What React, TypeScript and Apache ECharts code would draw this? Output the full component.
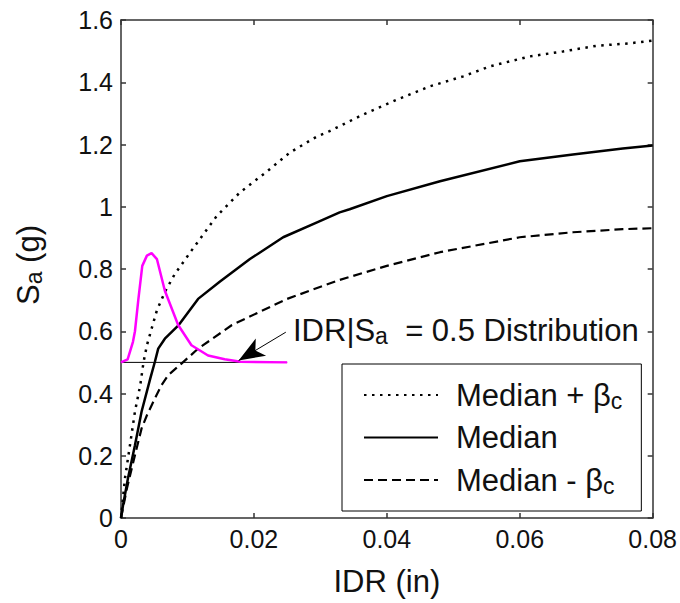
import React, { useEffect, useRef } from 'react';
import * as echarts from 'echarts';

const FONT = "'Liberation Sans', Arial, Helvetica, sans-serif";

// Axis ranges
const X_MIN = 0;
const X_MAX = 0.08;
const X_STEP = 0.02;
const Y_MIN = 0;
const Y_MAX = 1.6;
const Y_STEP = 0.2;

// Median + beta_c (dotted)
const plusX = [0, 0.0001, 0.0006, 0.00135, 0.0021, 0.0029, 0.0034, 0.0039, 0.0046, 0.0054, 0.0066, 0.0081, 0.0106, 0.0144, 0.0179, 0.022, 0.0254, 0.0295, 0.0314, 0.0364, 0.0415, 0.0465, 0.0515, 0.0555, 0.0615, 0.0665, 0.0715, 0.0765, 0.08];
const plusY = [0, 0.022, 0.128, 0.234, 0.342, 0.427, 0.502, 0.555, 0.608, 0.667, 0.726, 0.784, 0.859, 0.97, 1.046, 1.114, 1.174, 1.226, 1.243, 1.296, 1.344, 1.387, 1.419, 1.451, 1.483, 1.499, 1.517, 1.525, 1.534];

// Median (solid)
const medX = [0, 0.0003, 0.00105, 0.0021, 0.0031, 0.0044, 0.0051, 0.0056, 0.0066, 0.0086, 0.0116, 0.0149, 0.0167, 0.0194, 0.0244, 0.0295, 0.0329, 0.0344, 0.04, 0.048, 0.06, 0.068, 0.0755, 0.08];
const medY = [0, 0.04, 0.128, 0.234, 0.342, 0.448, 0.502, 0.544, 0.576, 0.618, 0.704, 0.76, 0.789, 0.832, 0.902, 0.95, 0.982, 0.992, 1.034, 1.082, 1.146, 1.168, 1.187, 1.197];

// Median - beta_c (dashed)
const minusX = [0, 0.0009, 0.0021, 0.0031, 0.0039, 0.0051, 0.0061, 0.0071, 0.0091, 0.0116, 0.0167, 0.025, 0.0329, 0.04, 0.048, 0.06, 0.068, 0.0755, 0.08];
const minusY = [0, 0.096, 0.202, 0.288, 0.33, 0.384, 0.427, 0.459, 0.496, 0.544, 0.62, 0.704, 0.765, 0.81, 0.854, 0.902, 0.918, 0.928, 0.931];

// IDR | Sa = 0.5 distribution (magenta), drawn on the Sa = 0.5 baseline
const distX = [0, 0.001, 0.0018, 0.0021, 0.0026, 0.0032, 0.0039, 0.0046, 0.0054, 0.0066, 0.0086, 0.0106, 0.0131, 0.0156, 0.018, 0.025];
const distY = [0.5, 0.51, 0.566, 0.6, 0.7, 0.81, 0.843, 0.851, 0.832, 0.73, 0.62, 0.555, 0.522, 0.51, 0.502, 0.5];

// Sa = 0.5 reference line
const baseX = [0, 0.025];
const baseY = [0.5, 0.5];

// Annotation arrow (data coords): start, tip
const arrowFrom = [0.0248, 0.597];
const arrowTo = [0.0177, 0.506];

const NAMES = ['Median + β', 'Median', 'Median - β'];

const zip = (xs: number[], ys: number[]) => xs.map((x, i) => [x, ys[i]]);

export default function App() {
  const ref = useRef<HTMLDivElement>(null);

  useEffect(() => {
    const chart = echarts.init(ref.current!, undefined, { renderer: 'svg' });
    const axisColor = '#333';
    const textColor = '#111';
    const subStyle = { fontSize: 23, lineHeight: 18, verticalAlign: 'bottom', fontFamily: FONT, color: textColor };
    const fmt = (v: number) => String(+v.toFixed(3));

    const common = (min: number, max: number, step: number) => ({
      type: 'value',
      min,
      max,
      interval: step,
      axisLine: { show: true, onZero: false, lineStyle: { color: axisColor, width: 1.5 } },
      axisTick: { show: true, inside: true, length: 5, lineStyle: { color: axisColor, width: 1.5 } },
      splitLine: { show: false },
    });

    const line = (name: string, xs: number[], ys: number[], lineStyle: any, z: number, extra: any = {}) => ({
      type: 'line',
      name,
      data: zip(xs, ys),
      symbol: 'none',
      showSymbol: false,
      smooth: false,
      lineStyle,
      itemStyle: { color: lineStyle.color },
      z,
      silent: true,
      emphasis: { disabled: true },
      ...extra,
    });

    chart.setOption({
      animation: false,
      backgroundColor: '#fff',
      grid: { left: 121, right: 27, top: 20, bottom: 83, containLabel: false },
      xAxis: [
        {
          ...common(X_MIN, X_MAX, X_STEP),
          position: 'bottom',
          axisLabel: { show: true, margin: 8, fontSize: 25, lineHeight: 25, color: textColor, fontFamily: FONT, formatter: fmt },
          name: 'IDR (in)',
          nameLocation: 'middle',
          nameGap: 46,
          nameTextStyle: { fontSize: 31, lineHeight: 34, color: textColor, fontFamily: FONT },
        },
        {
          ...common(X_MIN, X_MAX, X_STEP),
          position: 'top',
          axisLabel: { show: false },
        },
      ],
      yAxis: [
        {
          ...common(Y_MIN, Y_MAX, Y_STEP),
          position: 'left',
          axisLabel: { show: true, margin: 8, fontSize: 25, color: textColor, fontFamily: FONT, formatter: fmt },
          name: 'S{sub|a} (g)',
          nameLocation: 'middle',
          nameRotate: 90,
          nameGap: 76,
          nameTextStyle: { fontSize: 31, lineHeight: 34, color: textColor, fontFamily: FONT, padding: [0, 0, 0, 8], rich: { sub: subStyle } },
        },
        {
          ...common(Y_MIN, Y_MAX, Y_STEP),
          position: 'right',
          axisLabel: { show: false },
        },
      ],
      legend: {
        data: NAMES,
        orient: 'vertical',
        left: 342,
        top: 364,
        padding: [14, 19, 14, 21],
        itemWidth: 74,
        itemHeight: 14,
        itemGap: 8.5,
        backgroundColor: '#fff',
        borderColor: '#000',
        borderWidth: 1,
        borderRadius: 0,
        selectedMode: false,
        itemStyle: { opacity: 0, color: 'rgba(0,0,0,0)', borderColor: 'rgba(0,0,0,0)', borderWidth: 0 },
        formatter: (n: string) => (n.indexOf('β') >= 0 ? n + '{sub|c}' : n),
        textStyle: {
          fontSize: 31,
          lineHeight: 34,
          color: textColor,
          fontFamily: FONT,
          padding: [0, 0, 0, 13],
          rich: { sub: subStyle },
        },
      },
      graphic: [
        {
          type: 'text',
          x: 293,
          y: 330,
          z: 100,
          silent: true,
          style: {
            text: 'IDR|S{sub|a}  = 0.5 Distribution',
            fontSize: 31,
            lineHeight: 34,
            fontFamily: FONT,
            fill: textColor,
            align: 'left',
            verticalAlign: 'middle',
            rich: { sub: { fontSize: 23, lineHeight: 18, verticalAlign: 'bottom', fontFamily: FONT, fill: textColor } },
          },
        },
      ],
      series: [
        line('base', baseX, baseY, { color: '#000', width: 1, type: 'solid' }, 2, {
          markLine: {
            silent: true,
            animation: false,
            symbol: ['none', 'arrow'],
            symbolSize: [15, 26],
            label: { show: false },
            lineStyle: { color: '#000', width: 1, type: 'solid' },
            emphasis: { disabled: true },
            data: [[{ coord: arrowFrom }, { coord: arrowTo }]],
          },
        }),
        line(NAMES[0], plusX, plusY, { color: '#000', width: 2.5, type: [2.5, 5.5], cap: 'butt' }, 3),
        line(NAMES[1], medX, medY, { color: '#000', width: 2.5, type: 'solid' }, 3),
        line(NAMES[2], minusX, minusY, { color: '#000', width: 2.2, type: [9, 5] }, 3),
        line('dist', distX, distY, { color: '#ff00ff', width: 2.5, type: 'solid' }, 4),
      ],
    });

    return () => chart.dispose();
  }, []);

  return (
    <div
      ref={ref}
      style={{ position: 'fixed', left: 0, top: 0, width: 680, height: 603, background: '#fff' }}
    />
  );
}
